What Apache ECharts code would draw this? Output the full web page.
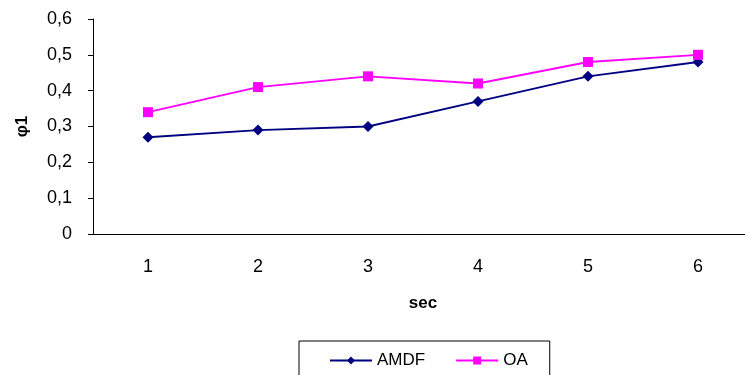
<!DOCTYPE html>
<html>
<head>
<meta charset="utf-8">
<script src="https://cdn.jsdelivr.net/npm/echarts@6/dist/echarts.min.js"></script>
<style>
  html, body { margin: 0; padding: 0; background: #fff; overflow: hidden; }
  #main { width: 760px; height: 375px; }
</style>
</head>
<body>
<div id="main"></div>
<script>
var categories = ['1', '2', '3', '4', '5', '6'];
var amdf = [0.27, 0.29, 0.30, 0.37, 0.44, 0.48];
var oa = [0.34, 0.41, 0.44, 0.42, 0.48, 0.50];

var chart = echarts.init(document.getElementById('main'));
var font = 'Liberation Sans, Arial, sans-serif';

var option = {
    animation: false,
    backgroundColor: '#fff',
    // plot runs past the right edge of the window, as in the original
    grid: { left: 93, top: 19, width: 660, height: 215 },
    legend: {
        left: 299,
        top: 341,
        padding: [11, 22, 20, 30],
        borderColor: '#000',
        borderWidth: 1,
        itemWidth: 42,
        itemHeight: 10,
        itemGap: 30,
        textStyle: { fontFamily: font, fontSize: 17, color: '#000' },
        data: ['AMDF', 'OA']
    },
    xAxis: {
        type: 'category',
        data: categories,
        name: 'sec',
        nameLocation: 'middle',
        nameGap: 61,
        nameTextStyle: { fontFamily: font, fontSize: 17, fontWeight: 'bold', color: '#000' },
        axisLine: { lineStyle: { color: '#000', width: 1 } },
        axisTick: { length: 5, lineStyle: { color: '#000' } },
        axisLabel: { margin: 24, fontFamily: font, fontSize: 18, color: '#000' },
        splitLine: { show: false }
    },
    yAxis: {
        type: 'value',
        min: 0,
        max: 0.6,
        interval: 0.1,
        name: 'φ1',
        nameLocation: 'middle',
        nameGap: 62,
        nameTextStyle: { fontFamily: font, fontSize: 17, fontWeight: 'bold', color: '#000' },
        axisLine: { show: true, lineStyle: { color: '#000', width: 1 } },
        axisTick: { show: true, length: 5, lineStyle: { color: '#000' } },
        axisLabel: {
            margin: 21,
            fontFamily: font,
            fontSize: 18,
            color: '#000',
            formatter: function (v) {
                return v === 0 ? '0' : v.toFixed(1).replace('.', ',');
            }
        },
        splitLine: { show: false }
    },
    series: [
        {
            name: 'AMDF',
            type: 'line',
            data: amdf,
            symbol: 'diamond',
            symbolSize: 11,
            color: '#000080',
            lineStyle: { width: 1.8, color: '#000080' },
            itemStyle: { color: '#000080' }
        },
        {
            name: 'OA',
            type: 'line',
            data: oa,
            symbol: 'rect',
            symbolSize: 10,
            color: '#ff00ff',
            lineStyle: { width: 1.8, color: '#ff00ff' },
            itemStyle: { color: '#ff00ff' }
        }
    ]
};

chart.setOption(option);
</script>
</body>
</html>
